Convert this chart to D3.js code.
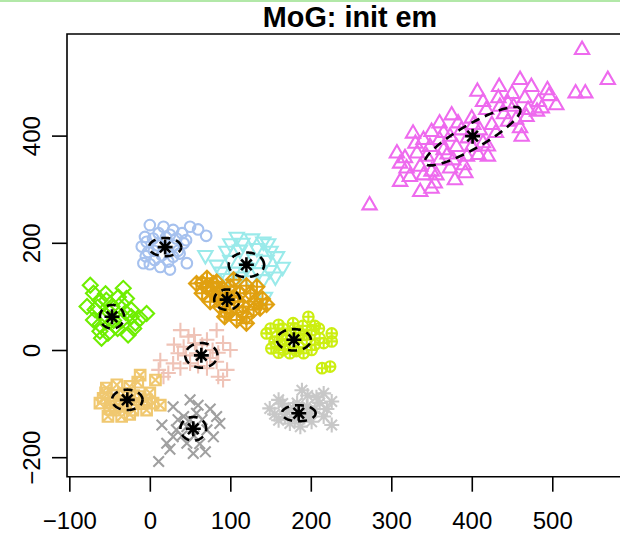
<!DOCTYPE html>
<html><head><meta charset="utf-8">
<script src="https://cdn.jsdelivr.net/npm/d3@7"></script>
<style>body{margin:0;background:#fff}svg{display:block}</style>
</head><body>
<script>
const xTicks = [-100, 0, 100, 200, 300, 400, 500];
const yTicks = [-200, 0, 200, 400];
const xLim = [-102.9, 600.3];
const yLim = [-236.4, 589.6];
const title = "MoG: init em";

// points per cluster [x, y]
const ptsTriUp = [[537,560],[569,504],[529,479],[541,479],[460,504],[474,491],[434,491],[407,482],[494,485],[496,474],[505,457],[483,463],[466,470],[452,454],[414,463],[433,470],[418,448],[470,448],[481,445],[375,438],[400,432],[425,420],[445,426],[460,414],[462,398],[327,404],[350,407],[340,392],[360,392],[373,398],[387,410],[410,410],[414,386],[400,379],[381,379],[365,373],[348,379],[307,367],[317,358],[332,367],[344,361],[360,354],[377,354],[394,361],[408,364],[420,361],[319,339],[336,342],[350,333],[373,339],[323,323],[340,326],[356,326],[392,330],[379,317],[311,314],[336,295],[350,301],[354,311],[273,270],[468,435],[487,451],[383,423],[435,454],[360,423],[311,348],[395,395],[430,405],[440,440],[420,380],[390,345],[370,365],[455,430],[445,460],[402,420],[365,405],[330,385],[450,478]];
const ptsCircle = [[0,233],[17,230],[29,224],[50,230],[70,213],[-6,211],[4,208],[33,208],[42,199],[-10,193],[-2,183],[37,180],[6,168],[0,160],[13,155],[23,165],[46,162],[-8,162],[25,215],[11,218],[40,218],[-4,202],[29,174],[15,177],[10,195],[30,195],[5,185],[20,210],[35,185],[-5,175],[45,205],[25,150],[60,225]];
const ptsTriDown = [[108,211],[127,208],[141,202],[147,199],[69,177],[100,199],[83,159],[89,146],[100,168],[112,187],[145,168],[149,149],[156,137],[141,132],[143,99],[120,153],[104,146],[112,137],[133,190],[96,134],[165,155],[158,175],[130,170],[115,200],[150,185],[95,185],[135,145],[125,130]];
const ptsDiamondPlus = [[58,124],[71,134],[83,127],[65,106],[77,109],[75,90],[87,81],[100,75],[93,62],[108,56],[120,62],[137,78],[116,81],[112,106],[125,106],[100,118],[87,106],[79,124],[96,93],[104,131],[133,118],[129,75],[110,90],[120,120],[140,95],[90,115],[105,100],[115,70],[95,70],[85,95],[130,90],[70,118],[120,50],[145,85],[65,125]];
const ptsDiamond = [[-74,121],[-62,93],[-70,106],[-78,81],[-68,75],[-58,62],[-62,47],[-70,56],[-52,31],[-60,22],[-43,44],[-33,115],[-29,96],[-39,99],[-23,62],[-18,50],[-4,68],[-12,59],[-27,28],[-23,75],[-47,81],[-35,87],[-54,93],[-40,40],[-50,70],[-65,80],[-55,105],[-45,55],[-30,70],[-62,35],[-35,55],[-20,40]];
const ptsPlus = [[38,37],[48,25],[83,37],[71,19],[56,13],[42,6],[91,13],[100,0],[13,-19],[29,-25],[38,-34],[23,-43],[11,-37],[50,-25],[71,-34],[83,-22],[96,-37],[91,-56],[85,-50],[58,-6],[35,-6],[17,-50],[65,10],[75,-15],[45,-10],[60,-30],[78,0],[30,10],[85,-5],[55,28]];
const ptsCirclePlus = [[160,47],[178,50],[197,62],[145,31],[151,3],[166,0],[174,-6],[191,-6],[201,0],[201,37],[211,22],[226,31],[226,16],[216,13],[214,-34],[224,-31],[158,25],[187,31],[170,19],[195,19],[165,40],[185,5],[155,15],[165,30],[180,40],[190,45],[205,45],[150,40],[168,8],[182,-2],[205,10],[175,28],[160,-5],[192,28],[210,40]];
const ptsSquareX = [[-12,-47],[7,-56],[-54,-71],[-41,-65],[-25,-68],[-58,-90],[-49,-99],[-12,-87],[-4,-93],[13,-103],[4,-99],[-52,-124],[-35,-124],[-21,-112],[-43,-112],[-62,-99],[-33,-81],[-4,-112],[-30,-100],[-20,-85],[-45,-85],[-35,-95],[-20,-100],[-50,-110],[-10,-100],[-55,-80],[-38,-105],[0,-80],[-25,-120],[-15,-60]];
const ptsTimes = [[29,-106],[50,-93],[60,-103],[15,-140],[33,-149],[29,-162],[46,-174],[54,-193],[69,-190],[11,-208],[83,-124],[87,-137],[71,-149],[79,-162],[46,-143],[58,-118],[21,-174],[42,-124],[65,-130],[40,-160],[35,-130],[55,-160],[75,-110],[62,-175],[25,-185],[50,-130]];
const ptsAsterisk = [[189,-75],[160,-93],[149,-109],[216,-81],[226,-96],[211,-99],[160,-131],[174,-137],[187,-143],[201,-134],[226,-140],[199,-118],[170,-115],[216,-124],[183,-99],[195,-105],[165,-100],[178,-108],[192,-125],[205,-110],[180,-130],[168,-125],[220,-110],[155,-120],[207,-88],[196,-85]];

// cluster order
const clusterPoints = [ptsTriUp, ptsCircle, ptsTriDown, ptsDiamondPlus, ptsDiamond, ptsPlus, ptsCirclePlus, ptsSquareX, ptsTimes, ptsAsterisk];
const clusterPch = [2, 1, 6, 9, 5, 3, 10, 7, 4, 8];
const clusterColors = ["#EE6AEE", "#A6C1EE", "#9AEAEA", "#E0A010", "#6EEE00", "#EFC3B7", "#CCEE11", "#F0C870", "#A0A0A0", "#C8C8C8"];

// component means and (initial) covariances
const centerX = [401, 19, 120, 96, -47, 64, 179, -28, 54, 185];
const centerY = [399, 192, 159, 94, 62, -10, 19, -93, -147, -118];
const sdX = [59.5, 20, 22, 16, 15, 20, 21, 19, 16, 21];
const sdY = [54.6, 17, 23, 19, 22, 23, 20, 19, 22, 15];
const corXY = [0.882, 0, 0, 0, 0, 0, 0, 0, 0, 0];

const W = 620, H = 536;
const L = 67, R = 633, T = 34, B = 476.7;
const x = d3.scaleLinear().domain(xLim).range([L, R]);
const y = d3.scaleLinear().domain(yLim).range([B, T]);

const svg = d3.select("body").append("svg").attr("width", W).attr("height", H);
svg.append("rect").attr("width", W).attr("height", H).attr("fill", "#fff");
svg.append("rect").attr("x", 0).attr("y", 0).attr("width", W).attr("height", 2).attr("fill", "#B2E8A8");

const S = 5.3;
function sym(pch) {
  const p = d3.path();
  const s = S;
  if (pch === 1) { p.moveTo(s, 0); p.arc(0, 0, s, 0, 2 * Math.PI); }
  else if (pch === 2 || pch === 6) {
    const r = 1.5551 * s, xc = 1.3468 * s, yc = 0.7776 * s;
    const sg = pch === 2 ? 1 : -1;
    p.moveTo(0, -sg * r); p.lineTo(xc, sg * yc); p.lineTo(-xc, sg * yc); p.closePath();
  }
  else if (pch === 3) { const c = Math.SQRT2 * s; p.moveTo(-c, 0); p.lineTo(c, 0); p.moveTo(0, -c); p.lineTo(0, c); }
  else if (pch === 4) { p.moveTo(-s, -s); p.lineTo(s, s); p.moveTo(-s, s); p.lineTo(s, -s); }
  else if (pch === 5) { const c = Math.SQRT2 * s; p.moveTo(-c, 0); p.lineTo(0, -c); p.lineTo(c, 0); p.lineTo(0, c); p.closePath(); }
  else if (pch === 7) { p.rect(-s, -s, 2 * s, 2 * s); p.moveTo(-s, -s); p.lineTo(s, s); p.moveTo(-s, s); p.lineTo(s, -s); }
  else if (pch === 8) { p.moveTo(-s, -s); p.lineTo(s, s); p.moveTo(-s, s); p.lineTo(s, -s); const c = Math.SQRT2 * s; p.moveTo(-c, 0); p.lineTo(c, 0); p.moveTo(0, -c); p.lineTo(0, c); }
  else if (pch === 9) { const c = Math.SQRT2 * s; p.moveTo(-c, 0); p.lineTo(0, -c); p.lineTo(c, 0); p.lineTo(0, c); p.closePath(); p.moveTo(-c, 0); p.lineTo(c, 0); p.moveTo(0, -c); p.lineTo(0, c); }
  else if (pch === 10) { p.moveTo(s, 0); p.arc(0, 0, s, 0, 2 * Math.PI); p.moveTo(-s, 0); p.lineTo(s, 0); p.moveTo(0, -s); p.lineTo(0, s); }
  return p.toString();
}

svg.append("clipPath").attr("id", "pc").append("rect").attr("x", L).attr("y", T).attr("width", R - L).attr("height", B - T);
const plot = svg.append("g").attr("clip-path", "url(#pc)");

clusterPoints.forEach((pts, k) => {
  plot.append("g").selectAll("path").data(pts).join("path")
    .attr("transform", d => `translate(${x(d[0])},${y(d[1])})`)
    .attr("d", sym(clusterPch[k]))
    .attr("fill", "none").attr("stroke", clusterColors[k]).attr("stroke-width", 2.1);
});

// ellipses
const tSteps = d3.range(0, 101).map(i => i / 100 * 2 * Math.PI);
centerX.forEach((cx, k) => {
  const cy = centerY[k], sx = sdX[k], sy = sdY[k], r = corXY[k];
  const pts = tSteps.map(t => {
    const u = Math.cos(t), v = Math.sin(t);
    return [cx + sx * u, cy + sy * (r * u + Math.sqrt(1 - r * r) * v)];
  });
  plot.append("path")
    .attr("d", d3.line().x(d => x(d[0])).y(d => y(d[1]))(pts))
    .attr("fill", "none").attr("stroke", "#000").attr("stroke-width", 2.6)
    .attr("stroke-dasharray", "9,6");
  plot.append("path")
    .attr("transform", `translate(${x(cx)},${y(cy)})`)
    .attr("d", sym(8))
    .attr("fill", "none").attr("stroke", "#000").attr("stroke-width", 2.6);
});

// box
svg.append("path").attr("d", `M${R},${T}H${L}V${B}H${R}`).attr("fill", "none").attr("stroke", "#000").attr("stroke-width", 1.6);

const font = "'Liberation Sans', Arial, Helvetica, sans-serif";
const xa = svg.append("g").attr("transform", `translate(0,${B})`)
  .call(d3.axisBottom(x).tickValues(xTicks).tickSize(15).tickPadding(20).tickFormat(d => d < 0 ? "\u2212" + Math.abs(d) : d));
xa.select(".domain").remove();
xa.selectAll("line").attr("stroke", "#000").attr("stroke-width", 1.6);
xa.selectAll("text").attr("font-family", font).attr("font-size", 24).attr("fill", "#000");

const ya = svg.append("g").attr("transform", `translate(${L},0)`)
  .call(d3.axisLeft(y).tickValues(yTicks).tickSize(15).tickFormat(d => d < 0 ? "\u2212" + Math.abs(d) : d));
ya.select(".domain").remove();
ya.selectAll("line").attr("stroke", "#000").attr("stroke-width", 1.6);
ya.selectAll("text").attr("font-family", font).attr("font-size", 24).attr("fill", "#000")
  .attr("x", null).attr("dy", null).attr("text-anchor", "middle")
  .attr("transform", "translate(-27,0) rotate(-90)");

svg.append("text").attr("x", (L + R) / 2).attr("y", 27).attr("text-anchor", "middle")
  .attr("font-family", font).attr("font-weight", "bold").attr("font-size", 28.8).text(title);
</script>
</body></html>
